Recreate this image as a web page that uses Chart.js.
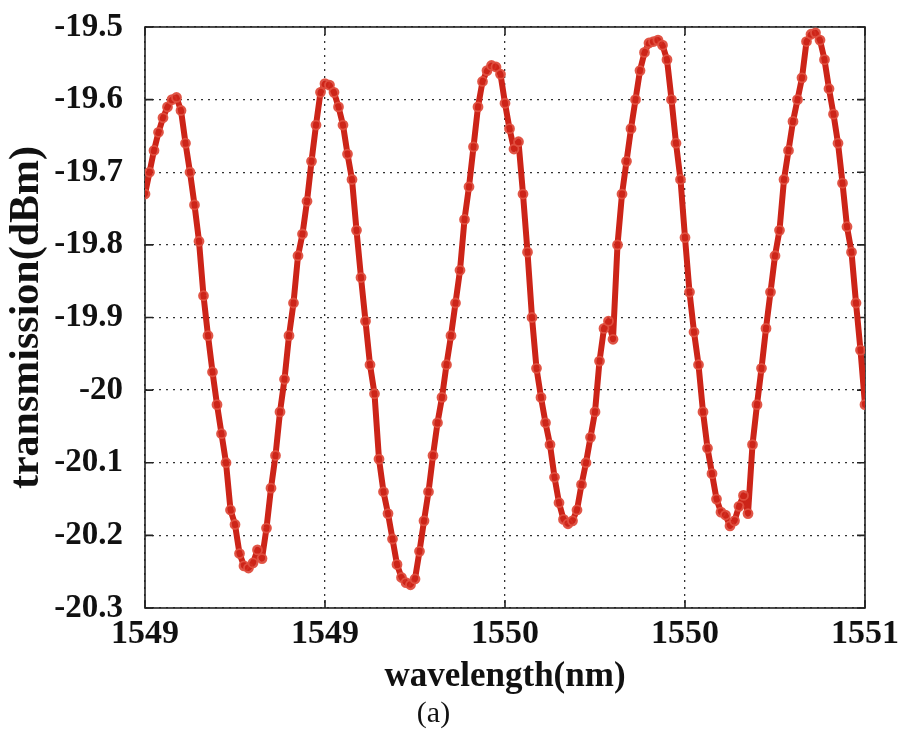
<!DOCTYPE html>
<html>
<head>
<meta charset="utf-8">
<title>transmission vs wavelength</title>
<script src="https://cdn.jsdelivr.net/npm/chart.js@4.4.1/dist/chart.umd.min.js"></script>
<style>
    html, body { margin: 0; padding: 0; background: #ffffff; }
    #chart { display: block; }
</style>
</head>
<body>
<canvas id="chart" width="905" height="731"></canvas>
<script>
// Golflengte (nm), gemeten in stappen van 0.01 nm
const wavelengths = [
    1549.00, 1549.01, 1549.02, 1549.03, 1549.04, 1549.05, 1549.06, 1549.07, 1549.08, 1549.09,
    1549.10, 1549.11, 1549.12, 1549.13, 1549.14, 1549.15, 1549.16, 1549.17, 1549.18, 1549.19,
    1549.20, 1549.21, 1549.22, 1549.23, 1549.24, 1549.25, 1549.26, 1549.27, 1549.28, 1549.29,
    1549.30, 1549.31, 1549.32, 1549.33, 1549.34, 1549.35, 1549.36, 1549.37, 1549.38, 1549.39,
    1549.40, 1549.41, 1549.42, 1549.43, 1549.44, 1549.45, 1549.46, 1549.47, 1549.48, 1549.49,
    1549.50, 1549.51, 1549.52, 1549.53, 1549.54, 1549.55, 1549.56, 1549.57, 1549.58, 1549.59,
    1549.60, 1549.61, 1549.62, 1549.63, 1549.64, 1549.65, 1549.66, 1549.67, 1549.68, 1549.69,
    1549.70, 1549.71, 1549.72, 1549.73, 1549.74, 1549.75, 1549.76, 1549.77, 1549.78, 1549.79,
    1549.80, 1549.81, 1549.82, 1549.83, 1549.84, 1549.85, 1549.86, 1549.87, 1549.88, 1549.89,
    1549.90, 1549.91, 1549.92, 1549.93, 1549.94, 1549.95, 1549.96, 1549.97, 1549.98, 1549.99,
    1550.00, 1550.01, 1550.02, 1550.03, 1550.04, 1550.05, 1550.06, 1550.07, 1550.08, 1550.09,
    1550.10, 1550.11, 1550.12, 1550.13, 1550.14, 1550.15, 1550.16, 1550.17, 1550.18, 1550.19,
    1550.20, 1550.21, 1550.22, 1550.23, 1550.24, 1550.25, 1550.26, 1550.27, 1550.28, 1550.29,
    1550.30, 1550.31, 1550.32, 1550.33, 1550.34, 1550.35, 1550.36, 1550.37, 1550.38, 1550.39,
    1550.40, 1550.41, 1550.42, 1550.43, 1550.44, 1550.45, 1550.46, 1550.47, 1550.48, 1550.49,
    1550.50, 1550.51, 1550.52, 1550.53, 1550.54, 1550.55, 1550.56, 1550.57, 1550.58, 1550.59,
    1550.60
];

// Transmissie (dBm)
const transmission = [
    -19.73, -19.70, -19.67, -19.645, -19.625, -19.61, -19.60, -19.597, -19.615, -19.66,
    -19.70, -19.745, -19.795, -19.87, -19.925, -19.975, -20.02, -20.06, -20.10, -20.165,
    -20.185, -20.225, -20.242, -20.245, -20.238, -20.22, -20.232, -20.19, -20.135, -20.09,
    -20.03, -19.985, -19.925, -19.88, -19.815, -19.785, -19.74, -19.685, -19.635, -19.59,
    -19.578, -19.58, -19.59, -19.61, -19.635, -19.675, -19.71, -19.78, -19.845, -19.905,
    -19.965, -20.005, -20.095, -20.14, -20.17, -20.205, -20.24, -20.258, -20.265, -20.268,
    -20.26, -20.222, -20.18, -20.14, -20.09, -20.045, -20.01, -19.965, -19.925, -19.88,
    -19.835, -19.765, -19.72, -19.665, -19.61, -19.575, -19.56, -19.553, -19.555, -19.565,
    -19.605, -19.64, -19.668, -19.658, -19.73, -19.81, -19.90, -19.97, -20.01, -20.045,
    -20.075, -20.12, -20.155, -20.178, -20.184, -20.18, -20.165, -20.13, -20.10, -20.065,
    -20.03, -19.96, -19.915, -19.905, -19.93, -19.80, -19.73, -19.685, -19.64, -19.60,
    -19.56, -19.535, -19.522, -19.52, -19.518, -19.525, -19.545, -19.60, -19.66, -19.71,
    -19.79, -19.865, -19.92, -19.965, -20.03, -20.08, -20.115, -20.15, -20.168, -20.172,
    -20.187, -20.18, -20.16, -20.145, -20.17, -20.075, -20.02, -19.97, -19.915, -19.865,
    -19.815, -19.78, -19.71, -19.67, -19.63, -19.60, -19.57, -19.52, -19.51, -19.508,
    -19.518, -19.545, -19.585, -19.62, -19.66, -19.715, -19.775, -19.81, -19.88, -19.945,
    -20.02
];

// Aslabels zoals in de figuur (afgeronde waarden)
const xTickLabels = ['1549', '1549', '1550', '1550', '1551'];
const yTickLabels = ['-20.3', '-20.2', '-20.1', '-20', '-19.9', '-19.8', '-19.7', '-19.6', '-19.5'];

const serif = "'Liberation Serif', 'Times New Roman', serif";

// Kader rond het plotgebied met korte tickstreepjes naar binnen
const framePlugin = {
    id: 'frame',
    beforeDatasetsDraw(chart) {
        const { ctx, chartArea: a, scales } = chart;
        ctx.save();
        ctx.strokeStyle = '#222';
        ctx.lineWidth = 1.6;
        ctx.setLineDash([]);
        ctx.strokeRect(a.left, a.top, a.right - a.left, a.bottom - a.top);
        ctx.beginPath();
        scales.x.ticks.forEach(t => {
            const px = scales.x.getPixelForValue(t.value);
            ctx.moveTo(px, a.bottom); ctx.lineTo(px, a.bottom - 8);
            ctx.moveTo(px, a.top); ctx.lineTo(px, a.top + 8);
        });
        scales.y.ticks.forEach(t => {
            const py = scales.y.getPixelForValue(t.value);
            ctx.moveTo(a.left, py); ctx.lineTo(a.left + 8, py);
            ctx.moveTo(a.right, py); ctx.lineTo(a.right - 8, py);
        });
        ctx.stroke();
        ctx.restore();
    }
};

const ctx = document.getElementById('chart').getContext('2d');

new Chart(ctx, {
    type: 'line',
    data: {
        datasets: [{
            label: 'transmission',
            data: wavelengths.map((w, i) => ({ x: w, y: transmission[i] })),
            borderColor: '#cc2418',
            borderWidth: 6,
            borderJoinStyle: 'round',
            borderCapStyle: 'round',
            pointRadius: 4.5,
            pointBorderWidth: 1.8,
            pointBorderColor: 'rgba(224, 80, 64, 0.95)',
            pointBackgroundColor: 'rgba(205, 36, 24, 0.75)',
            tension: 0
        }]
    },
    options: {
        responsive: false,
        devicePixelRatio: 1,
        animation: false,
        layout: {
            padding: { top: 27, right: 38, left: 0, bottom: 0 }
        },
        plugins: {
            legend: { display: false },
            tooltip: { enabled: false },
            title: {
                display: true,
                text: '(a)',
                position: 'bottom',
                color: '#111',
                font: { family: serif, size: 30, weight: 'normal', lineHeight: 1.1 },
                padding: { top: 0, bottom: 0 }
            }
        },
        scales: {
            x: {
                type: 'linear',
                min: 1549.0,
                max: 1550.6,
                afterFit: scale => { scale.height = 90; },
                ticks: {
                    stepSize: 0.4,
                    color: '#111',
                    padding: 6,
                    maxRotation: 0,
                    font: { family: serif, size: 34, weight: 'bold' },
                    callback: (value, index) => xTickLabels[index]
                },
                grid: { color: '#333', lineWidth: 1.3, drawTicks: false },
                border: { display: false, dash: [2, 5] },
                title: {
                    display: true,
                    text: 'wavelength(nm)',
                    color: '#111',
                    font: { family: serif, size: 35, weight: 'bold', lineHeight: 1.2 },
                    padding: { top: 0, bottom: 0 }
                }
            },
            y: {
                min: -20.3,
                max: -19.5,
                afterFit: scale => {
                    scale.width = 145;
                    scale.paddingTop = 0;
                    scale.paddingBottom = 0;
                },
                ticks: {
                    stepSize: 0.1,
                    color: '#111',
                    padding: 22,
                    font: { family: serif, size: 33, weight: 'bold' },
                    callback: (value, index) => yTickLabels[index]
                },
                grid: { color: '#333', lineWidth: 1.3, drawTicks: false },
                border: { display: false, dash: [2, 5] },
                title: {
                    display: true,
                    text: 'transmission(dBm)',
                    color: '#111',
                    font: { family: serif, size: 42, weight: 'bold', lineHeight: 1.2 },
                    padding: { top: 2, bottom: 0 }
                }
            }
        }
    },
    plugins: [framePlugin]
});
</script>
</body>
</html>
